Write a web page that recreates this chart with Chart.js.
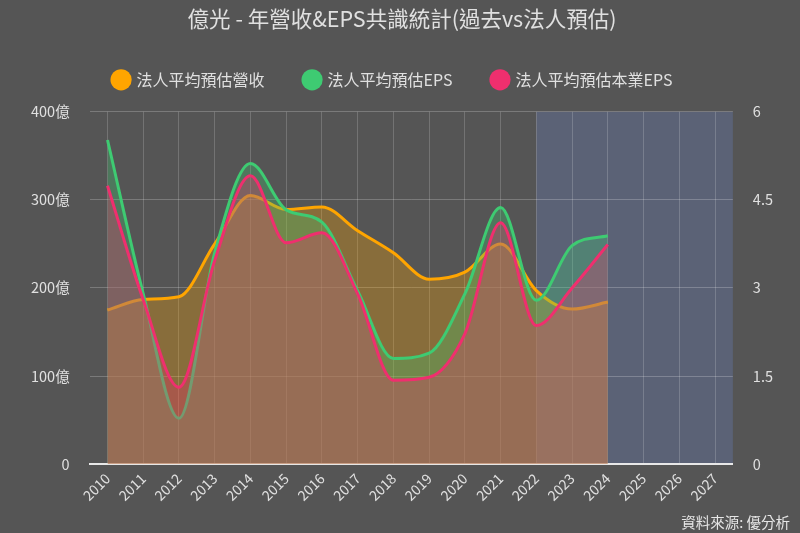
<!DOCTYPE html>
<html>
<head>
<meta charset="utf-8">
<script src="https://cdn.jsdelivr.net/npm/chart.js@4/dist/chart.umd.min.js"></script>
<style>
  html, body { margin: 0; padding: 0; background: #555555; }
  #wrap { position: relative; width: 800px; height: 533px; }
  #source { position: absolute; right: 10px; bottom: 1px; color: #e6e6e6; font: 14.5px "Noto Sans CJK TC", sans-serif; }
</style>
</head>
<body>
<div id="wrap">
  <canvas id="chart" width="800" height="533"></canvas>
  <div id="source">資料來源: 優分析</div>
</div>
<script>
const years = ['2010', '2011', '2012', '2013', '2014', '2015', '2016', '2017', '2018', '2019', '2020', '2021', '2022', '2023', '2024', '2025', '2026', '2027'];
const revenue = [175, 187, 190, 250, 305, 289, 292, 265, 240, 210, 218, 250, 197, 176, 184];
const eps = [5.52, 2.9, 0.78, 3.6, 5.12, 4.33, 4.12, 2.95, 1.8, 1.89, 2.9, 4.37, 2.79, 3.72, 3.89];
const coreEps = [4.74, 2.8, 1.31, 3.47, 4.91, 3.77, 3.94, 2.9, 1.43, 1.48, 2.22, 4.11, 2.36, 3.0, 3.74];
const leftTicks = [0, 100, 200, 300, 400];
const rightTicks = [0, 1.5, 3, 4.5, 6];
const forecastFrom = '2022';

const textColor = '#e0e0e0';
const fontFamily = '"Noto Sans CJK TC", "Noto Sans", sans-serif';

// shaded forecast zone, drawn under the grid
const forecastZone = {
  id: 'forecastZone',
  beforeDraw(chart) {
    const { ctx, chartArea, scales } = chart;
    const x0 = scales.x.getPixelForValue(years.indexOf(forecastFrom));
    ctx.save();
    ctx.fillStyle = '#5b6276';
    ctx.fillRect(x0, chartArea.top, chartArea.right - x0, chartArea.bottom - chartArea.top);
    ctx.restore();
  }
};

// a bit more room between legend and plot, legend nudged left
const legendGap = {
  id: 'legendGap',
  beforeInit(chart) {
    const fit = chart.legend.fit;
    chart.legend.fit = function () {
      fit.bind(chart.legend)();
      this.height += 14;
    };
  },
  afterLayout(chart) {
    chart.legend.left -= 9;
    chart.legend.right -= 9;
  }
};

new Chart(document.getElementById('chart'), {
  type: 'line',
  data: {
    labels: years,
    datasets: [
      {
        label: '法人平均預估營收',
        data: revenue,
        yAxisID: 'y',
        borderColor: '#ffa500',
        backgroundColor: 'rgba(255, 165, 0, 0.3)',
        fill: 'origin',
        order: 2,
      },
      {
        label: '法人平均預估EPS',
        data: eps,
        yAxisID: 'y1',
        borderColor: '#3ecb72',
        backgroundColor: 'rgba(62, 203, 114, 0.3)',
        fill: 'origin',
        order: 1,
      },
      {
        label: '法人平均預估本業EPS',
        data: coreEps,
        yAxisID: 'y1',
        borderColor: '#ef2f6e',
        backgroundColor: 'rgba(239, 47, 110, 0.3)',
        fill: 'origin',
        order: 0,
      },
    ],
  },
  options: {
    responsive: false,
    animation: false,
    layout: { padding: { left: 11, right: 7, top: 4, bottom: 23 } },
    elements: {
      line: { borderWidth: 3, cubicInterpolationMode: 'monotone' },
      point: { radius: 0, hoverRadius: 0 },
    },
    plugins: {
      title: {
        display: true,
        text: '億光 - 年營收&EPS共識統計(過去vs法人預估)',
        color: textColor,
        font: { family: fontFamily, size: 21.5, weight: 'normal' },
        padding: { top: 2, bottom: 0 },
      },
      legend: {
        labels: {
          color: textColor,
          font: { family: fontFamily, size: 16 },
          usePointStyle: true,
          pointStyle: 'circle',
          boxWidth: 15,
          boxHeight: 15,
          padding: 40,
          sort: (a, b) => a.datasetIndex - b.datasetIndex,
          generateLabels(chart) {
            return chart.data.datasets.map((ds, i) => ({
              text: ds.label,
              fillStyle: ds.borderColor,
              strokeStyle: ds.borderColor,
              fontColor: textColor,
              lineWidth: 0,
              pointStyle: 'circle',
              datasetIndex: i,
            }));
          },
        },
      },
      tooltip: { enabled: false },
    },
    scales: {
      x: {
        offset: true,
        grid: { color: 'rgba(255, 255, 255, 0.18)', offset: false, drawTicks: false },
        border: { color: '#e8e8e8', width: 2 },
        ticks: {
          color: textColor,
          font: { family: fontFamily, size: 14 },
          maxRotation: 45,
          minRotation: 45,
          padding: 6,
          autoSkip: false,
        },
      },
      y: {
        position: 'left',
        min: 0,
        max: 400,
        afterBuildTicks: (axis) => { axis.ticks = leftTicks.map((v) => ({ value: v })); },
        grid: { color: 'rgba(255, 255, 255, 0.22)', drawTicks: false },
        border: { display: false },
        ticks: {
          color: textColor,
          font: { family: fontFamily, size: 14.5 },
          padding: 20,
          callback: (v) => (v === 0 ? '0' : v + '億'),
        },
      },
      y1: {
        position: 'right',
        min: 0,
        max: 6,
        afterBuildTicks: (axis) => { axis.ticks = rightTicks.map((v) => ({ value: v })); },
        grid: { display: false, drawTicks: false },
        border: { display: false },
        ticks: {
          color: textColor,
          font: { family: fontFamily, size: 14.5 },
          padding: 20,
          callback: (v) => String(v),
        },
      },
    },
  },
  plugins: [forecastZone, legendGap],
});
</script>
</body>
</html>
